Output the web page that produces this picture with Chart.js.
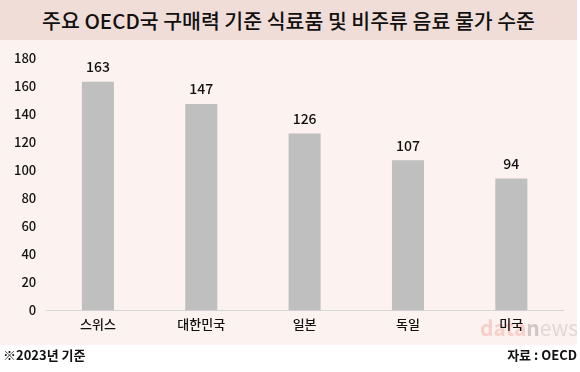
<!DOCTYPE html>
<html>
<head>
<meta charset="utf-8">
<script src="https://cdn.jsdelivr.net/npm/chart.js@4"></script>
<style>
  body { margin: 0; background: #fff; font-family: "Noto Sans CJK KR", sans-serif; }
  #page { width: 580px; height: 372px; position: relative; }
  #title { width: 577px; height: 40px; line-height: 40px; background: #f0ddd7; text-align: center;
           font-size: 20.5px; font-weight: 500; color: #111; }
  #wrap { width: 577px; height: 305px; background: #fcf2ef; position: relative; }
  #foot { position: absolute; top: 344px; left: 0; width: 577px; height: 22px; line-height: 22px;
          font-size: 13px; font-weight: 700; color: #111; }
  #foot .l { position: absolute; left: 3px; }
  #foot .r { position: absolute; right: 0; }
</style>
</head>
<body>
<div id="page">
  <div id="title">주요 OECD국 구매력 기준 식료품 및 비주류 음료 물가 수준</div>
  <div id="wrap"><canvas id="chart_price_canvas"></canvas></div>
  <div id="foot"><span class="l">※2023년 기준</span><span class="r">자료 : OECD</span></div>
</div>
<script>
const countries = ['스위스', '대한민국', '일본', '독일', '미국'];
const priceLevel = [163, 147, 126, 107, 94];
const yTicks = [0, 20, 40, 60, 80, 100, 120, 140, 160, 180];

const FONT = '"Noto Sans CJK KR", sans-serif';

// faint watermark under the axis labels
const watermark = {
    id: 'watermark',
    beforeDraw(chart) {
        const ctx = chart.ctx;
        ctx.save();
        ctx.textAlign = 'left';
        ctx.textBaseline = 'alphabetic';
        let x = 480;
        const y = 296;
        ctx.font = '700 21px ' + FONT;
        ctx.fillStyle = 'rgba(240,140,130,0.35)';
        ctx.fillText('data', x, y);
        x += ctx.measureText('data').width;
        ctx.fillStyle = 'rgba(120,120,120,0.35)';
        ctx.fillText('n', x, y);
        x += ctx.measureText('n').width;
        ctx.font = '400 21px ' + FONT;
        ctx.fillStyle = 'rgba(170,170,170,0.35)';
        ctx.fillText('ews', x, y);
        ctx.restore();
    }
};

// value labels above bars
const valueLabels = {
    id: 'valueLabels',
    afterDatasetsDraw(chart) {
        const ctx = chart.ctx;
        ctx.save();
        ctx.font = '500 14px ' + FONT;
        ctx.fillStyle = '#111';
        ctx.textAlign = 'center';
        ctx.textBaseline = 'bottom';
        chart.getDatasetMeta(0).data.forEach((bar, i) => {
            ctx.fillText(priceLevel[i], bar.x, bar.y - 8);
        });
        ctx.restore();
    }
};

document.addEventListener('DOMContentLoaded', () => {
    const ctx = document.getElementById('chart_price_canvas').getContext('2d');
    new Chart(ctx, {
        type: 'bar',
        data: {
            labels: countries,
            datasets: [{
                label: 'price',
                data: priceLevel,
                backgroundColor: '#bfbfbf',
                barPercentage: 0.31,
                categoryPercentage: 1
            }]
        },
        options: {
            responsive: true,
            maintainAspectRatio: false,
            animation: false,
            layout: { padding: { left: 4, right: 14, top: 3, bottom: 7 } },
            plugins: {
                legend: { display: false },
                tooltip: { enabled: false }
            },
            scales: {
                x: {
                    grid: { display: false, drawTicks: false },
                    border: { color: '#d6d6d6' },
                    ticks: { color: '#111', padding: 6, font: { family: FONT, size: 13, weight: 500 } }
                },
                y: {
                    min: 0,
                    max: 180,
                    afterBuildTicks: axis => { axis.ticks = yTicks.map(v => ({ value: v })); },
                    grid: { display: false, drawTicks: false },
                    border: { display: false },
                    ticks: { color: '#111', padding: 10, font: { family: FONT, size: 13, weight: 500 } }
                }
            }
        },
        plugins: [watermark, valueLabels]
    });
});
</script>
</body>
</html>
